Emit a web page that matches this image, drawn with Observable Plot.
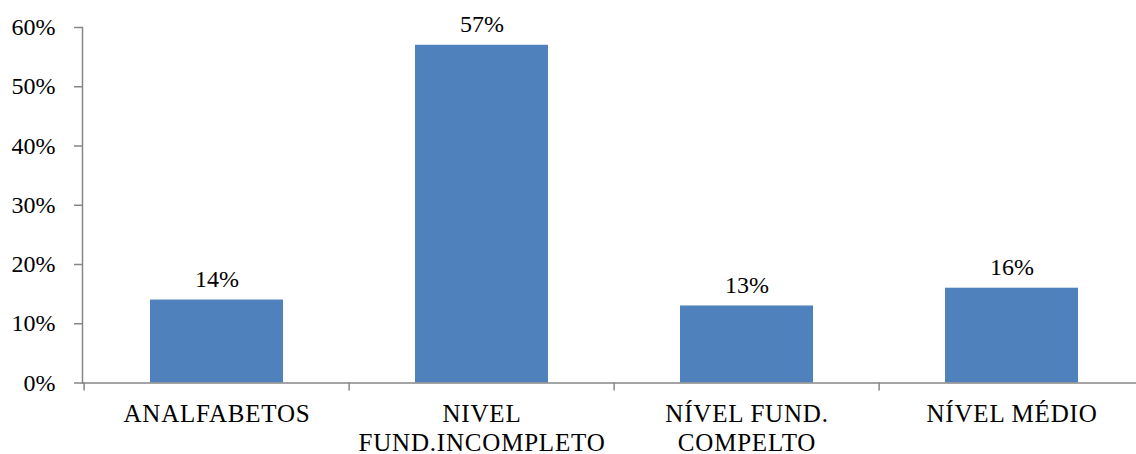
<!DOCTYPE html>
<html>
<head>
<meta charset="utf-8">
<script src="https://cdn.jsdelivr.net/npm/d3@7"></script>
<script src="https://cdn.jsdelivr.net/npm/@observablehq/plot@0.6"></script>
<style>
  html, body { margin: 0; padding: 0; background: #fff; }
  #chart svg { display: block; overflow: hidden; }
  #chart svg, #chart svg text { font-family: "Liberation Serif", "Times New Roman", serif !important; }
</style>
</head>
<body>
<div id="chart"></div>
<script>
// Escolaridade: share of respondents by schooling level (%)
const categories = ["ANALFABETOS", "NIVEL\nFUND.INCOMPLETO", "NÍVEL FUND.\nCOMPELTO", "NÍVEL MÉDIO"];
const values = [14, 57, 13, 16];
const yTicks = [0, 10, 20, 30, 40, 50, 60];

const data = categories.map((c, i) => ({category: c, value: values[i]}));

const W = 1136, H = 454;
const axisColor = "#868686";
const barColor = "#4F81BD";

const marginLeft = 82, marginRight = -9;
const step = (W - marginLeft - marginRight) / categories.length;

const chart = Plot.plot({
  width: W,
  height: H,
  marginLeft,
  marginRight,
  marginTop: 27,
  marginBottom: 71.5,
  style: {fontSize: "24px", color: "#000", background: "#fff", overflow: "hidden"},
  x: {type: "band", domain: categories, paddingInner: 0.5, paddingOuter: 0.25, align: 0.5, label: null},
  y: {domain: [0, 60], label: null},
  marks: [
    Plot.barY(data, {x: "category", y: "value", fill: barColor}),
    // value labels above each bar
    Plot.text(data, {
      x: "category", y: "value", text: d => `${d.value}%`,
      lineAnchor: "bottom", dy: -13, fontSize: 24, fill: "#000"
    }),
    // y axis line and ticks
    Plot.frame({anchor: "left", stroke: axisColor, strokeWidth: 1.5}),
    Plot.axisY({
      ticks: yTicks, tickSize: 8, tickPadding: 19, tickFormat: d => `${d}%`,
      stroke: axisColor, strokeWidth: 1.5, fontSize: 24, fill: "#000", label: null
    }),
    // x axis baseline
    Plot.ruleY([0], {stroke: axisColor, strokeWidth: 1.5}),
    // ticks on category boundaries
    Plot.axisX({
      tickSize: 8, tickFormat: null, dx: -step / 2,
      stroke: axisColor, strokeWidth: 1.5, label: null
    }),
    // category labels
    Plot.axisX({
      tickSize: 0, tickPadding: 18, fontSize: 25, lineHeight: 1.17, fill: "#000",
      label: null
    })
  ]
});

// category labels are set slightly looser than the numbers
d3.select(chart).selectAll("g[aria-label='x-axis tick label'] text").style("letter-spacing", "0.8px");

document.getElementById("chart").appendChild(chart);
</script>
</body>
</html>
